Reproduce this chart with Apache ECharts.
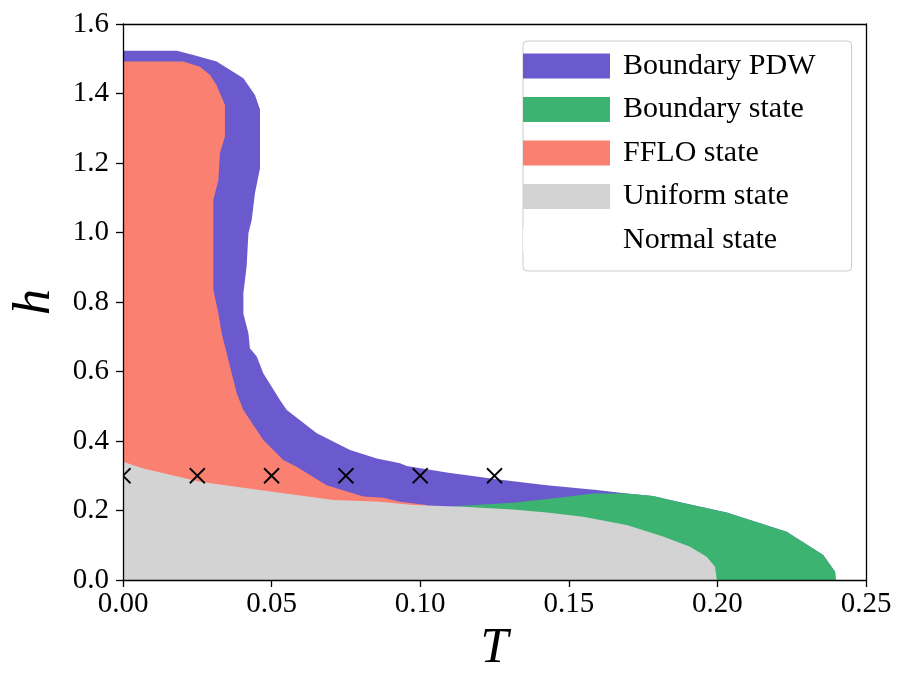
<!DOCTYPE html>
<html>
<head>
<meta charset="utf-8">
<script src="https://cdn.jsdelivr.net/npm/echarts@6/dist/echarts.min.js"></script>
<style>html,body{margin:0;padding:0;background:#fff;}#c{width:910px;height:692px;}</style>
</head>
<body>
<div id="c"></div>
<script>
// ---- data (T, h) ----
const xTicks = [0, 0.05, 0.10, 0.15, 0.20, 0.25];
const yTicks = [0, 0.2, 0.4, 0.6, 0.8, 1.0, 1.2, 1.4, 1.6];
const legendNames = ['Boundary PDW', 'Boundary state', 'FFLO state', 'Uniform state', 'Normal state'];
const legendColors = ['#6a5acd', '#3cb371', '#fa8072', '#d3d3d3', '#ffffff'];

// outer edge of Boundary PDW region
const pdwEdge = [
  [0, 1.523], [0.0181, 1.523], [0.0237, 1.511], [0.0315, 1.492], [0.0405, 1.444],
  [0.0444, 1.396], [0.0461, 1.354], [0.0461, 1.185], [0.0444, 1.113], [0.0433, 1.036],
  [0.0422, 0.998], [0.0416, 0.902], [0.0405, 0.825], [0.0405, 0.767], [0.0422, 0.710],
  [0.0427, 0.667], [0.0450, 0.643], [0.0472, 0.595], [0.0528, 0.518], [0.0551, 0.489],
  [0.0652, 0.422], [0.0764, 0.374], [0.0854, 0.350], [0.0932, 0.336], [0.0955, 0.328],
  [0.1089, 0.309], [0.1257, 0.290], [0.1426, 0.273], [0.1594, 0.259], [0.1695, 0.249]
];
// outer edge of Boundary state region
const boundaryEdge = [
  [0.1695, 0.249], [0.1783, 0.242], [0.1874, 0.224], [0.2031, 0.194], [0.2233, 0.139],
  [0.2356, 0.072], [0.2396, 0.024], [0.2398, 0]
];
// edge between Boundary PDW and Boundary state
const boundaryInner = [
  [0.1115, 0.2125], [0.1312, 0.222], [0.1480, 0.238], [0.1581, 0.249], [0.1695, 0.249]
];
// outer edge of FFLO region
const ffloEdge = [
  [0, 1.492], [0.0203, 1.492], [0.0259, 1.477], [0.0293, 1.453], [0.0315, 1.424],
  [0.0343, 1.367], [0.0343, 1.276], [0.0326, 1.228], [0.0321, 1.151], [0.0304, 1.094],
  [0.0304, 0.835], [0.0321, 0.767], [0.0332, 0.710], [0.0349, 0.652], [0.0371, 0.576],
  [0.0383, 0.537], [0.0405, 0.489], [0.0472, 0.403], [0.0539, 0.345], [0.0584, 0.326],
  [0.0685, 0.273], [0.0809, 0.240], [0.0876, 0.237], [0.0932, 0.225], [0.1022, 0.216]
];
// upper edge of Uniform region
const uniformEdge = [
  [0, 0.340], [0.0068, 0.321], [0.0259, 0.283], [0.0484, 0.256], [0.0708, 0.230],
  [0.0865, 0.225], [0.0976, 0.216], [0.1144, 0.211], [0.1312, 0.203], [0.1426, 0.194],
  [0.1548, 0.182], [0.1695, 0.158], [0.1817, 0.125], [0.1908, 0.096], [0.1964, 0.067],
  [0.1992, 0.038], [0.1998, 0]
];
// sampled points (crosses)
const markT = [0, 0.025, 0.05, 0.075, 0.10, 0.125];
const markH = [0.3, 0.3, 0.3, 0.3, 0.3, 0.3];

// ---- polygons built from the edges ----
const pdwPoly = [[0, 0]].concat(pdwEdge, boundaryEdge.slice(1));
const boundaryPoly = boundaryInner.concat(boundaryEdge.slice(1), [[boundaryInner[0][0], 0]]);
const ffloPoly = [[0, 0]].concat(ffloEdge, [[ffloEdge[ffloEdge.length - 1][0], 0]]);
const uniformPoly = [[0, 0]].concat(uniformEdge);
const polys = [pdwPoly, boundaryPoly, ffloPoly, uniformPoly, []];

const FONT = 'Liberation Serif';
const chart = echarts.init(document.getElementById('c'), null, {renderer: 'canvas'});

function polySeries(i) {
  return {
    type: 'custom',
    name: legendNames[i],
    coordinateSystem: 'cartesian2d',
    itemStyle: {color: legendColors[i]},
    data: [0],
    z: 2 + i,
    silent: true,
    renderItem: function (params, api) {
      const pts = polys[i].map(p => api.coord(p));
      if (!pts.length) return null;
      return {type: 'polygon', shape: {points: pts}, style: {fill: legendColors[i], stroke: null}};
    }
  };
}

const series = [0, 1, 2, 3, 4].map(polySeries);
series.push({
  type: 'custom',
  name: 'marks',
  coordinateSystem: 'cartesian2d',
  clip: true,
  z: 8,
  silent: true,
  data: markT.map((t, k) => [t, markH[k]]),
  renderItem: function (params, api) {
    const c = api.coord([api.value(0), api.value(1)]);
    const s = 7.5;
    const st = {stroke: '#000', lineWidth: 1.8};
    return {type: 'group', children: [
      {type: 'line', shape: {x1: c[0] - s, y1: c[1] - s, x2: c[0] + s, y2: c[1] + s}, style: st},
      {type: 'line', shape: {x1: c[0] - s, y1: c[1] + s, x2: c[0] + s, y2: c[1] - s}, style: st}
    ]};
  }
});

const axisLine = {show: true, onZero: false, lineStyle: {color: '#000', width: 1.3}};
const option = {
  animation: false,
  backgroundColor: '#fff',
  grid: {left: 123, right: 44, top: 24, bottom: 112, containLabel: false, outerBoundsMode: 'none'},
  xAxis: [{
    type: 'value', min: 0, max: 0.25, interval: 0.05, z: 10,
    axisLine: axisLine,
    axisTick: {show: true, inside: false, length: 7, lineStyle: {color: '#000', width: 1.3}},
    axisLabel: {color: '#000', fontFamily: FONT, fontSize: 29, margin: 10,
      formatter: v => v.toFixed(2)},
    splitLine: {show: false},
    name: 'T', nameLocation: 'middle', nameGap: 42,
    nameTextStyle: {fontFamily: FONT, fontStyle: 'italic', fontSize: 50, color: '#000'}
  }, {
    type: 'value', position: 'top', min: 0, max: 0.25, z: 10,
    axisLine: axisLine, axisTick: {show: false}, axisLabel: {show: false}, splitLine: {show: false}
  }],
  yAxis: [{
    type: 'value', min: 0, max: 1.6, interval: 0.2, z: 10,
    axisLine: axisLine,
    axisTick: {show: true, inside: false, length: 7, lineStyle: {color: '#000', width: 1.3}},
    axisLabel: {color: '#000', fontFamily: FONT, fontSize: 29, margin: 14,
      formatter: v => v.toFixed(1)},
    splitLine: {show: false},
    name: 'h', nameLocation: 'middle', nameGap: 62, nameRotate: 90,
    nameTextStyle: {fontFamily: FONT, fontStyle: 'italic', fontSize: 52, color: '#000'}
  }, {
    type: 'value', position: 'right', min: 0, max: 1.6, z: 10,
    axisLine: axisLine, axisTick: {show: false}, axisLabel: {show: false}, splitLine: {show: false}
  }],
  legend: {
    data: legendNames,
    orient: 'vertical',
    left: 523, top: 41,
    padding: [10, 36, 16, 0],
    itemWidth: 87, itemHeight: 25, itemGap: 13.5,
    icon: 'rect',
    backgroundColor: 'rgba(255,255,255,0.8)',
    borderColor: '#cccccc', borderWidth: 1, borderRadius: 4,
    selectedMode: false,
    textStyle: {fontFamily: FONT, fontSize: 30, color: '#000', lineHeight: 25, padding: [0, 0, 0, 8]},
    z: 20
  },
  series: series
};
chart.setOption(option);
</script>
</body>
</html>
